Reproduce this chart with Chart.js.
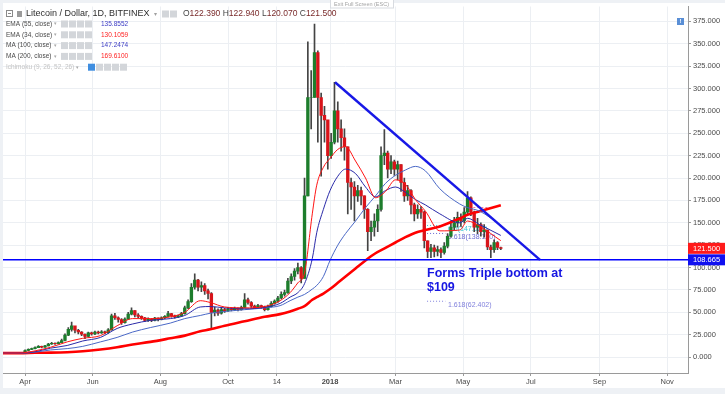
<!DOCTYPE html>
<html>
<head>
<meta charset="utf-8">
<title>Litecoin / Dollar, 1D, BITFINEX</title>
<script src="https://cdn.jsdelivr.net/npm/chart.js@4.4.1/dist/chart.umd.min.js"></script>
<style>
  html, body { margin: 0; padding: 0; background: #eef1f5; }
  #wrap { width: 725px; height: 394px; }
</style>
</head>
<body>
<div id="wrap"><canvas id="ltcChart" width="725" height="394"></canvas></div>
<script>
// day 0 = 1 Jan 2018, candles are 3 day bars
const candleStart = -296;
const candleStep = 3;
const firstOpen = 4.2;

const closes = [
  4.3, 4.2, 4.3, 4.1, 4.0, 4.2, 4.6, 7.4, 8.6, 9.4,
  10.6, 12.0, 11.0, 12.6, 14.6, 15.4, 15.0, 16.2, 18.5, 24.5,
  31.0, 35.0, 30.0, 28.0, 25.5, 23.0, 27.0, 25.8, 28.0, 27.0,
  28.2, 27.2, 30.5, 46.0, 44.0, 42.0, 38.5, 42.5, 48.0, 52.0,
  47.0, 45.5, 44.0, 41.0, 42.5, 41.0, 43.5, 42.0, 44.0, 45.5,
  48.5, 46.0, 45.0, 46.0, 48.5, 55.0, 62.0, 78.0, 86.0, 78.0,
  80.0, 74.0, 71.0, 50.0, 52.5, 49.0, 53.0, 51.5, 54.0, 53.0,
  54.5, 53.0, 55.5, 64.0, 61.0, 57.0, 55.0, 57.5, 56.0, 53.0,
  56.5, 60.0, 62.5, 66.0, 70.0, 72.0, 85.0, 90.0, 96.0, 100.0,
  88.0, 180, 290, 290, 340, 290, 270, 265, 225, 240,
  275, 255, 245, 235, 195, 190, 180, 186, 180, 165,
  140, 145, 152, 165, 225, 228, 210, 218, 210, 215,
  195, 180, 186, 170, 160, 165, 162, 130, 118, 122,
  118, 120, 117, 124, 135, 145, 150, 156, 152, 162,
  178, 162, 145, 148, 140, 142, 123, 120, 128, 122.39,
  121.5
];
const highs = [
  4.5, 4.4, 4.4, 4.3, 4.2, 4.3, 4.8, 8.0, 9.2, 10,
  11.5, 13, 12.4, 13.2, 15.4, 16.5, 16, 17, 20, 26,
  33, 39, 34, 31, 28.5, 26, 28, 28, 29, 29,
  29.5, 29, 32, 48, 49, 45, 43, 44, 50, 55,
  52, 48.5, 46, 44.5, 44, 43, 44.5, 44, 45, 46.5,
  51, 49, 47, 47, 50, 57, 64, 82, 93, 87,
  84, 82, 76, 72, 56, 54, 55, 54.5, 55.5, 55,
  56, 55, 57, 71, 66, 62, 58, 59, 58, 57,
  58, 62, 64, 68, 73, 75, 88, 93, 99, 105,
  101, 200, 352, 320, 372, 342, 295, 280, 262, 250,
  307, 285, 265, 255, 235, 200, 196, 192, 190, 180,
  166, 152, 160, 170, 235, 254, 230, 225, 220, 219,
  215, 200, 192, 187, 172, 170, 168, 163, 130, 126,
  125, 124, 122, 128, 138, 152, 156, 162, 160, 167,
  185, 179, 163, 155, 150, 148, 142, 125, 131, 129,
  122.94
];
const lows = [
  4.1, 4.0, 4.1, 3.9, 3.8, 3.9, 4.1, 4.6, 7.0, 8.3,
  9.2, 10.5, 10.4, 10.8, 12.4, 14.2, 14.3, 14.8, 16, 18,
  24, 29, 27, 26, 24, 20.5, 22.5, 24.5, 25, 26,
  26.5, 26, 26.5, 30, 42, 39, 36.5, 38, 42, 47,
  45, 44, 42, 39.5, 40, 39.5, 40.5, 40.5, 41.5, 43,
  45, 44.5, 43.5, 44, 45.5, 48, 54, 61, 76, 74,
  73, 70, 65, 33, 46, 46.5, 48, 50, 51, 51.5,
  52, 51.5, 52.5, 55, 59, 55.5, 54, 54.5, 54.5, 51.5,
  52.5, 56, 59, 61, 65, 68, 71, 82, 86, 93,
  83, 88, 180, 255, 290, 240, 202, 240, 210, 222,
  238, 240, 230, 220, 160, 165, 152, 174, 170, 155,
  119, 130, 135, 140, 163, 215, 200, 205, 203, 198,
  185, 174, 175, 160, 152, 155, 155, 122, 111, 111,
  112, 113, 111, 115, 122, 134, 142, 145, 146, 150,
  160, 158, 140, 138, 135, 134, 120, 111, 117, 120,
  120.07
];

// moving averages
const maDays = [-297, -280, -266, -252, -237, -223, -207, -192, -178, -162,
  -144, -131, -117, -108, -95, -77, -59, -45, -36, -29,
  -23, -16, -12, -6, 0, 7, 14, 23, 32, 41,
  50, 59, 68, 77, 86, 99, 117, 124, 135, 154];
const ema34 = [4.4, 4.5, 7, 11, 17, 21, 24, 35, 43, 43,
  45, 50, 63, 61, 56, 55, 56.5, 63, 72, 83,
  94, 160, 192, 212, 222, 232, 235, 219, 200, 178,
  185, 198, 193, 176, 163, 141, 142, 152, 146, 130.1];
const ema55 = [4.4, 4.4, 6, 10, 13, 18, 22, 32, 37, 41,
  43, 46.5, 56, 56.5, 55, 54, 55.5, 60, 67, 72,
  82, 110, 139, 165, 186, 202, 210, 205, 190, 179,
  186, 190, 184, 176, 170, 160, 150, 155, 148, 135.9];
const ma100 = [4.4, 4.4, 5.5, 8, 9.5, 12, 17, 22, 28, 33,
  38, 43, 46.5, 49, 51, 53, 55, 57.5, 63, 67,
  70, 76, 80, 90, 108, 125, 138, 152, 167, 180,
  194, 203, 209, 213, 208, 188, 171, 167, 163, 147.2];
const ma200 = [4.4, 4.4, 4.8, 5, 5.5, 6.5, 8.5, 11, 14, 17,
  21, 24, 29, 31, 35, 40, 45, 48, 51, 54,
  57, 64, 67, 71, 76, 83, 90, 99, 108, 116,
  122, 128, 134, 139, 142, 146, 155, 159, 163, 169.6];

const tickDays = [-275, -214, -153, -92, -48, 0, 59, 120, 181, 243, 304];
const tickLabels = ['Apr', 'Jun', 'Aug', 'Oct', '14', '2018', 'Mar', 'May', 'Jul', 'Sep', 'Nov'];
const priceTicks = [0, 25, 50, 75, 100, 125, 150, 175, 200, 225, 250, 275, 300, 325, 350, 375];

const supportValue = 108.665;
const lastClose = 121.5;
const trendDays = [4.5, 189.4];
const trendValues = [307, 108.7];
const fibDays = [87.5, 104];
const fibValues = [62.402, 138.12, 147.055];
const fibTexts = ['1.618(62.402)', '0.618(138.120)', '0.5(147.055)'];
const fibColors = ['#8080dc', '#6a6ad2', '#35c6d6'];
const pinkFibDays = [122, 144];
const pinkFibValue = 167.1;

const xMin = -294.9, xMax = 322.8;
const yMin = -17.75, yMax = 391.6;

const FONT = '"Liberation Sans", Arial, sans-serif';

// build candle data
let opens = [];
let bodies = [];
let wicks = [];
let bodyColors = [];
closes.forEach((c, i) => {
    const o = i === 0 ? firstOpen : closes[i - 1];
    const d = candleStart + i * candleStep;
    opens.push(o);
    bodies.push({x: d, y: [o, c]});
    wicks.push({x: d, y: [lows[i], highs[i]]});
    bodyColors.push(c >= o ? '#1d7d2c' : '#d8141a');
});

function maLine(values) {
    return values.map((v, i) => ({x: maDays[i], y: v}));
}

const legendRows = [
    ['EMA (55, close)', '135.8552', '#3b3bc4'],
    ['EMA (34, close)', '130.1059', '#ff2020'],
    ['MA (100, close)', '147.2474', '#3b3bc4'],
    ['MA (200, close)', '169.6100', '#ff2020'],
    ['Ichimoku (9, 26, 52, 26)', '', '#c8c8c8']
];

const backgroundPlugin = {
    id: 'background',
    beforeDraw(chart) {
        const ctx = chart.ctx;
        ctx.save();
        ctx.fillStyle = '#eef1f5';
        ctx.fillRect(0, 0, 725, 394);
        ctx.fillStyle = '#ffffff';
        ctx.fillRect(3, 3, 722, 385);
        ctx.restore();
    }
};

// fib labels sit under the candles
const fibPlugin = {
    id: 'fibText',
    beforeDatasetsDraw(chart) {
        const ctx = chart.ctx;
        const y = chart.scales.y;
        ctx.save();
        ctx.font = '7px ' + FONT;
        ctx.textBaseline = 'middle';
        fibValues.forEach((v, i) => {
            ctx.fillStyle = fibColors[i];
            ctx.fillText(fibTexts[i], 448, y.getPixelForValue(v) + 3.5);
        });
        ctx.restore();
    }
};

const notePlugin = {
    id: 'notes',
    afterDraw(chart) {
        const ctx = chart.ctx;
        const y = chart.scales.y;
        ctx.save();
        ctx.textBaseline = 'alphabetic';

        // annotation
        ctx.fillStyle = '#1616e2';
        ctx.font = 'bold 12.5px ' + FONT;
        ctx.fillText('Forms Triple bottom at', 427, 277);
        ctx.fillText('$109', 427, 291);

        // price boxes on the axis
        ctx.textBaseline = 'middle';
        ctx.font = '7.5px ' + FONT;
        [[lastClose, '#ff1a1a'], [supportValue, '#1010f0']].forEach(([v, c]) => {
            const py = y.getPixelForValue(v);
            ctx.fillStyle = c;
            ctx.fillRect(688, py - 5.5, 37, 11);
            ctx.fillStyle = '#ffffff';
            ctx.fillText(v.toFixed(3), 693, py + 0.5);
        });

        // alert icon
        ctx.fillStyle = '#5a8fd6';
        ctx.fillRect(677, 18, 7, 7);
        ctx.fillStyle = '#ffffff';
        ctx.font = 'bold 6px ' + FONT;
        ctx.fillText('!', 679.5, 21.8);

        // exit full screen tip
        ctx.fillStyle = '#ffffff';
        ctx.fillRect(330, 0, 64, 8);
        ctx.strokeStyle = '#d8dbe0';
        ctx.strokeRect(330.5, -0.5, 63, 8.5);
        ctx.fillStyle = '#a4a4a4';
        ctx.font = '5.5px ' + FONT;
        ctx.fillText('Exit Full Screen (ESC)', 334, 4);

        // header
        ctx.strokeStyle = '#8a8a8a';
        ctx.lineWidth = 1;
        ctx.strokeRect(6.5, 10.5, 6, 6);
        ctx.beginPath();
        ctx.moveTo(8, 13.5);
        ctx.lineTo(11, 13.5);
        ctx.stroke();
        ctx.fillStyle = '#9a9a9a';
        ctx.fillRect(17, 11, 5, 6);
        ctx.fillStyle = '#2e2e2e';
        ctx.font = '9px ' + FONT;
        ctx.fillText('Litecoin / Dollar, 1D, BITFINEX', 26, 14);
        ctx.fillStyle = '#a0a0a0';
        ctx.font = '6px ' + FONT;
        ctx.fillText('\u25BE', 154, 14);
        ctx.fillStyle = '#d3d6da';
        ctx.fillRect(162, 10.5, 7, 7);
        ctx.fillRect(170, 10.5, 7, 7);

        let px = 183;
        ctx.font = '8.5px ' + FONT;
        [['O', '122.390'], ['H', '122.940'], ['L', '120.070'], ['C', '121.500']].forEach(([k, v]) => {
            ctx.fillStyle = '#444444';
            ctx.fillText(k, px, 14);
            px += ctx.measureText(k).width;
            ctx.fillStyle = '#7a2b2b';
            ctx.fillText(v, px, 14);
            px += ctx.measureText(v + ' ').width;
        });

        // indicator legend
        legendRows.forEach((row, i) => {
            const ry = 24 + i * 10.8;
            ctx.font = '6.5px ' + FONT;
            ctx.fillStyle = i === 4 ? '#c4c4c4' : '#4a4a4a';
            ctx.fillText(row[0], 6, ry);
            const w = ctx.measureText(row[0]).width;
            ctx.fillStyle = '#a8a8a8';
            ctx.font = '5px ' + FONT;
            ctx.fillText('\u25BE', 8 + w, ry);
            const bx = i === 4 ? 88 : 61;
            const n = i === 4 ? 5 : 4;
            for (let k = 0; k < n; k++) {
                ctx.fillStyle = (i === 4 && k === 0) ? '#3f8ee0' : '#d3d6da';
                ctx.fillRect(bx + k * 8, ry - 3.5, 7, 7);
            }
            if (row[1]) {
                ctx.font = '6.5px ' + FONT;
                ctx.fillStyle = row[2];
                ctx.fillText(row[1], 101, ry);
            }
        });
        ctx.restore();
    }
};

const ctx = document.getElementById('ltcChart').getContext('2d');
new Chart(ctx, {
    type: 'bar',
    data: {
        datasets: [
            {
                type: 'line',
                label: 'fib 1.618',
                data: fibDays.map(d => ({x: d, y: fibValues[0]})),
                borderColor: fibColors[0], borderWidth: 1, borderDash: [1, 2],
                pointRadius: 0, order: 9
            },
            {
                type: 'line',
                label: 'fib 0.618',
                data: fibDays.map(d => ({x: d, y: fibValues[1]})),
                borderColor: fibColors[1], borderWidth: 1, borderDash: [1, 2],
                pointRadius: 0, order: 9
            },
            {
                type: 'line',
                label: 'fib 0.5',
                data: fibDays.map(d => ({x: d, y: fibValues[2]})),
                borderColor: fibColors[2], borderWidth: 1, borderDash: [1, 2],
                pointRadius: 0, order: 9
            },
            {
                type: 'line',
                label: 'fib 0.236',
                data: pinkFibDays.map(d => ({x: d, y: pinkFibValue})),
                borderColor: '#f07aa0', borderWidth: 1, borderDash: [2, 2],
                pointRadius: 0, order: 9
            },
            {
                label: 'wicks',
                data: wicks,
                backgroundColor: '#444444',
                barThickness: 1,
                grouped: false,
                order: 8
            },
            {
                label: 'candles',
                data: bodies,
                backgroundColor: bodyColors,
                barThickness: 2.7,
                grouped: false,
                order: 7
            },
            {
                type: 'line', label: 'MA (200, close)', data: maLine(ma200),
                borderColor: '#ff0000', borderWidth: 2.6, pointRadius: 0,
                cubicInterpolationMode: 'monotone', order: 6
            },
            {
                type: 'line', label: 'MA (100, close)', data: maLine(ma100),
                borderColor: '#4a68c6', borderWidth: 1, pointRadius: 0,
                cubicInterpolationMode: 'monotone', order: 5
            },
            {
                type: 'line', label: 'EMA (55, close)', data: maLine(ema55),
                borderColor: '#2a2aa8', borderWidth: 1, pointRadius: 0,
                cubicInterpolationMode: 'monotone', order: 4
            },
            {
                type: 'line', label: 'EMA (34, close)', data: maLine(ema34),
                borderColor: '#ff1414', borderWidth: 1, pointRadius: 0,
                cubicInterpolationMode: 'monotone', order: 3
            },
            {
                type: 'line', label: 'support',
                data: [{x: xMin, y: supportValue}, {x: xMax, y: supportValue}],
                borderColor: '#0000ff', borderWidth: 1.5, pointRadius: 0, order: 2
            },
            {
                type: 'line', label: 'trend',
                data: trendDays.map((d, i) => ({x: d, y: trendValues[i]})),
                borderColor: '#1818e6', borderWidth: 2.4, pointRadius: 0, order: 1
            }
        ]
    },
    options: {
        responsive: false,
        devicePixelRatio: 1,
        animation: false,
        layout: { padding: { top: 4, left: 3, right: 0, bottom: 0 } },
        plugins: {
            legend: { display: false },
            tooltip: { enabled: false }
        },
        scales: {
            x: {
                type: 'linear',
                min: xMin,
                max: xMax,
                offset: false,
                afterBuildTicks: s => { s.ticks = tickDays.map(v => ({value: v})); },
                afterFit: s => { s.height = 21; },
                grid: { color: '#eceff3', tickLength: 3, tickColor: '#9a9a9a', offset: false },
                border: { color: '#9a9a9a' },
                ticks: {
                    autoSkip: false,
                    maxRotation: 0,
                    padding: 1,
                    color: '#4a4a4a',
                    font: c => ({ family: FONT, size: 7.5, weight: (c.tick && c.tick.value === 0) ? 'bold' : 'normal' }),
                    callback: (v, i) => tickLabels[i]
                }
            },
            y: {
                type: 'linear',
                position: 'right',
                min: yMin,
                max: yMax,
                afterBuildTicks: s => { s.ticks = priceTicks.map(v => ({value: v})); },
                afterFit: s => { s.width = 37; },
                grid: { color: '#eceff3', tickLength: 3, tickColor: '#9a9a9a' },
                border: { color: '#9a9a9a' },
                ticks: {
                    padding: 2,
                    color: '#4a4a4a',
                    font: { family: FONT, size: 7.5 },
                    callback: v => v.toFixed(3)
                }
            }
        }
    },
    plugins: [backgroundPlugin, fibPlugin, notePlugin]
});
</script>
</body>
</html>
